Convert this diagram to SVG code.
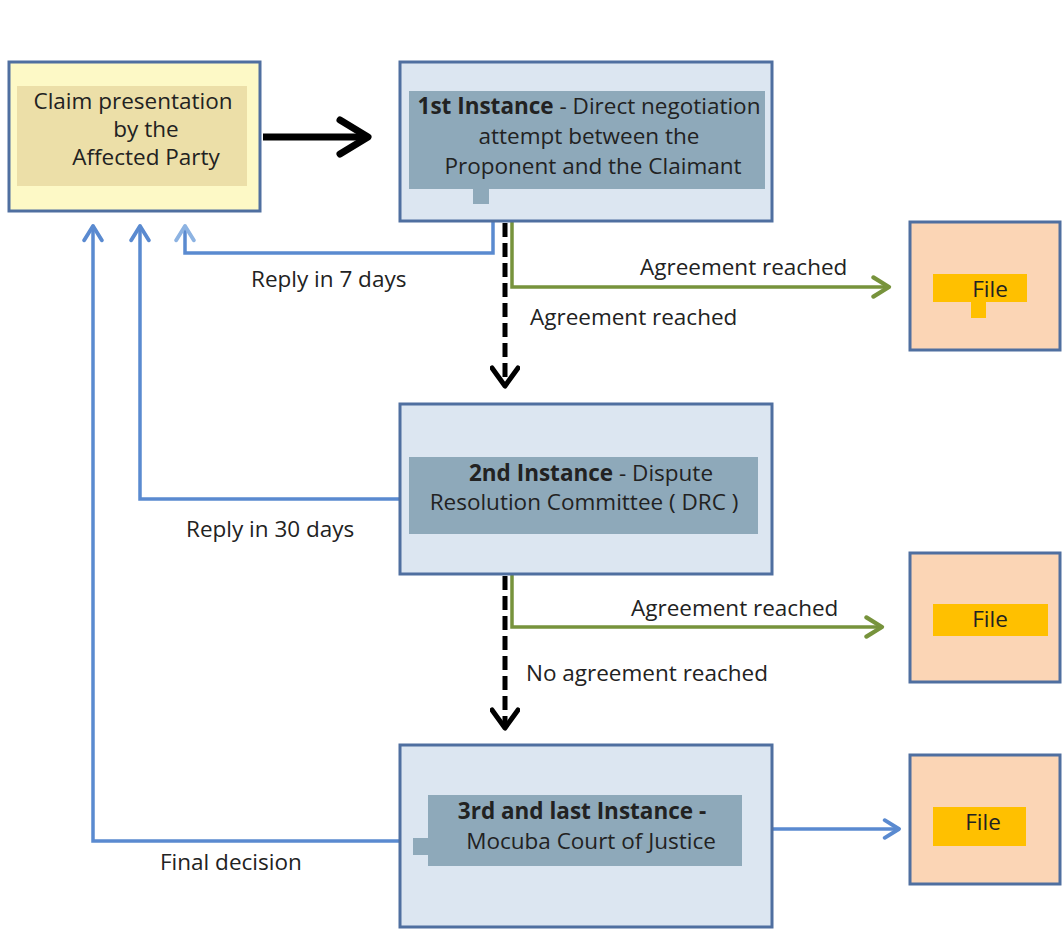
<svg xmlns="http://www.w3.org/2000/svg" width="1063" height="930" viewBox="0 0 1063 930">
<style>
.t{font-family:"Open Sans","Liberation Sans",sans-serif;font-size:22.5px;fill:#222;}
.b{font-weight:bold;}
.box{fill:#dce6f1;stroke:#4f6fa0;stroke-width:3;}
.inner{fill:#8ea9ba;}
.file{fill:#fbd5b5;stroke:#4f6fa0;stroke-width:3;}
.fin{fill:#ffc000;}
.blue{fill:none;stroke:#5a8ad0;stroke-width:3.5;}
.green{fill:none;stroke:#77933c;stroke-width:3.5;}
.dash{fill:none;stroke:#000;stroke-width:5;stroke-dasharray:14 6;}
</style>
<defs>
<marker id="mBlue" viewBox="0 0 20 20" refX="17" refY="10" markerUnits="userSpaceOnUse" markerWidth="22" markerHeight="22" orient="auto"><path d="M4,2 L17,10 L4,18" fill="none" stroke="#5a8ad0" stroke-width="3.5" stroke-linecap="round" stroke-linejoin="round"/></marker>
<marker id="mLight" viewBox="0 0 20 20" refX="17" refY="10" markerUnits="userSpaceOnUse" markerWidth="22" markerHeight="22" orient="auto"><path d="M4,2 L17,10 L4,18" fill="none" stroke="#8db3e2" stroke-width="3.5" stroke-linecap="round" stroke-linejoin="round"/></marker>
<marker id="mGreen" viewBox="0 0 20 20" refX="17" refY="10" markerUnits="userSpaceOnUse" markerWidth="24" markerHeight="24" orient="auto"><path d="M4,2 L17,10 L4,18" fill="none" stroke="#77933c" stroke-width="3.5" stroke-linecap="round" stroke-linejoin="round"/></marker>
<marker id="mBlack" viewBox="0 0 30 30" refX="26" refY="15" markerUnits="userSpaceOnUse" markerWidth="30" markerHeight="30" orient="auto"><path d="M8,2 L26,15 L8,28" fill="none" stroke="#000" stroke-width="5" stroke-linecap="round" stroke-linejoin="round"/></marker>
</defs>
<rect width="1063" height="930" fill="#fff"/>

<g id="connectors">
<path d="M263,137 L367,137" fill="none" stroke="#000" stroke-width="7"/>
<path d="M340,120 L368,137 L340,154" fill="none" stroke="#000" stroke-width="7" stroke-linecap="round" stroke-linejoin="round"/>
<path class="blue" d="M493,222 L493,253 L185,253 L185,226" marker-end="url(#mLight)"/>
<path class="dash" d="M505,223 L505,386" marker-end="url(#mBlack)"/>
<path class="green" d="M512,222 L512,287 L889,287" marker-end="url(#mGreen)"/>
<path class="blue" d="M400,499 L140,499 L140,226" marker-end="url(#mBlue)"/>
<path class="dash" d="M505,576 L505,728" marker-end="url(#mBlack)"/>
<path class="green" d="M512,575 L512,627 L882,627" marker-end="url(#mGreen)"/>
<path class="blue" d="M400,841 L93,841 L93,226" marker-end="url(#mBlue)"/>
<path class="blue" d="M773,829 L899,829" marker-end="url(#mBlue)"/>
<text class="t" x="251" y="287">Reply in 7 days</text>
<text class="t" x="640" y="275">Agreement reached</text>
<text class="t" x="530" y="325">Agreement reached</text>
<text class="t" x="186" y="537">Reply in 30 days</text>
<text class="t" x="631" y="616">Agreement reached</text>
<text class="t" x="526" y="681">No agreement reached</text>
<text class="t" x="160" y="870">Final decision</text>
</g>

<g id="claim">
<rect x="9" y="62" width="251" height="149" fill="#fdf9c6" stroke="#4f6fa0" stroke-width="3"/>
<rect x="17" y="86" width="230" height="100" fill="#ecdfa8"/>
<text class="t" x="133" y="109" text-anchor="middle">Claim presentation</text>
<text class="t" x="146" y="137" text-anchor="middle">by the</text>
<text class="t" x="146" y="165" text-anchor="middle">Affected Party</text>
</g>

<g id="inst1">
<rect class="box" x="400" y="62" width="372" height="159"/>
<rect class="inner" x="409" y="91" width="356" height="98"/>
<rect class="inner" x="473" y="189" width="16" height="15"/>
<text class="t" x="589" y="114" text-anchor="middle"><tspan class="b">1st Instance</tspan> - Direct negotiation</text>
<text class="t" x="589" y="144" text-anchor="middle">attempt between the</text>
<text class="t" x="593" y="174" text-anchor="middle">Proponent and the Claimant</text>
</g>

<g id="file1">
<rect class="file" x="910" y="222" width="150" height="128"/>
<rect class="fin" x="933" y="274" width="94" height="28"/>
<rect class="fin" x="971" y="302" width="15" height="16"/>
<text class="t" x="990" y="297" text-anchor="middle">File</text>
</g>

<g id="inst2">
<rect class="box" x="400" y="404" width="372" height="170"/>
<rect class="inner" x="409" y="457" width="349" height="77"/>
<text class="t" x="591" y="481" text-anchor="middle"><tspan class="b">2nd Instance</tspan> - Dispute</text>
<text class="t" x="584" y="510" text-anchor="middle">Resolution Committee ( DRC )</text>
</g>

<g id="file2">
<rect class="file" x="910" y="553" width="150" height="129"/>
<rect class="fin" x="933" y="604" width="115" height="32"/>
<text class="t" x="990" y="627" text-anchor="middle">File</text>
</g>

<g id="inst3">
<rect class="box" x="400" y="745" width="372" height="182"/>
<rect class="inner" x="428" y="795" width="314" height="71"/>
<rect class="inner" x="413" y="838" width="16" height="17"/>
<text class="t b" x="582" y="819" text-anchor="middle">3rd and last Instance -</text>
<text class="t" x="591" y="849" text-anchor="middle">Mocuba Court of Justice</text>
</g>

<g id="file3">
<rect class="file" x="910" y="755" width="150" height="129"/>
<rect class="fin" x="933" y="807" width="93" height="39"/>
<text class="t" x="983" y="830" text-anchor="middle">File</text>
</g>
</svg>
